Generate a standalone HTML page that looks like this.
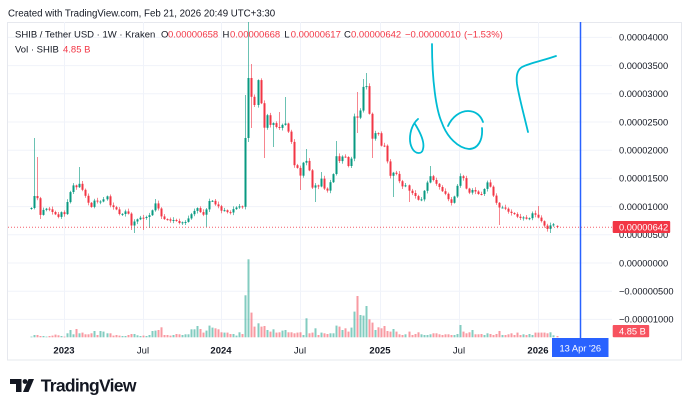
<!DOCTYPE html>
<html><head><meta charset="utf-8">
<style>
html,body{margin:0;padding:0;background:#fff;}
body{width:690px;height:409px;position:relative;overflow:hidden;font-family:"Liberation Sans",sans-serif;}
svg{position:absolute;left:0;top:0;}
text{font-family:"Liberation Sans",sans-serif;fill:#131722;}
</style></head><body>
<svg width="690" height="409" viewBox="0 0 690 409" xmlns="http://www.w3.org/2000/svg">
<defs><clipPath id="pc"><rect x="8" y="22" width="604" height="316"/></clipPath></defs>
<rect x="0" y="0" width="690" height="409" fill="#fff"/>
<text x="8" y="16.7" font-size="9.7">Created with TradingView.com, Feb 21, 2026 20:49 UTC+3:30</text>
<rect x="7.5" y="22.5" width="674" height="337.5" fill="none" stroke="#e6e8ee" stroke-width="1"/>
<g stroke="#f0f3fa" stroke-width="1">
<line x1="8" x2="612" y1="37.4" y2="37.4"/><line x1="8" x2="612" y1="65.6" y2="65.6"/>
<line x1="8" x2="612" y1="93.8" y2="93.8"/><line x1="8" x2="612" y1="122" y2="122"/>
<line x1="8" x2="612" y1="150.2" y2="150.2"/><line x1="8" x2="612" y1="178.4" y2="178.4"/>
<line x1="8" x2="612" y1="206.6" y2="206.6"/><line x1="8" x2="612" y1="234.8" y2="234.8"/>
<line x1="8" x2="612" y1="263" y2="263"/><line x1="8" x2="612" y1="291.2" y2="291.2"/>
<line x1="8" x2="612" y1="319.4" y2="319.4"/>
<line x1="64.5" x2="64.5" y1="22" y2="338"/><line x1="143.5" x2="143.5" y1="22" y2="338"/>
<line x1="221.5" x2="221.5" y1="22" y2="338"/><line x1="300.5" x2="300.5" y1="22" y2="338"/>
<line x1="380.5" x2="380.5" y1="22" y2="338"/><line x1="459.5" x2="459.5" y1="22" y2="338"/>
<line x1="538.5" x2="538.5" y1="22" y2="338"/>
</g>
<g id="vol" clip-path="url(#pc)"></g>
<g id="cndl" clip-path="url(#pc)"></g>
<line x1="8" x2="612" y1="227.3" y2="227.3" stroke="#F23645" stroke-width="1" stroke-dasharray="1,2" opacity="0.8"/>
<g fill="none" stroke="#00BCD4" stroke-width="1.8" stroke-linecap="round" stroke-linejoin="round">
<path d="M418,119 C410,126 408,140 412,148 C415,154 422,155 423,149 C425,142 420,132 415,124"/>
<path d="M432,44 C432,80 436,110 442,123 C447,137 458,148 469,149 C478,149 483,140 482,128"/>
<path d="M448,126 C452,117 460,111 468,111 C476,111 481,116 483,122"/>
<path d="M556,56 C545,60 530,63 522,67 C517,70 516,76 517,84 C519,97 524,115 528,132"/>
</g>
<text x="15" y="37.7" font-size="9.5">SHIB / Tether USD · 1W · Kraken</text>
<text x="161" y="37.7" font-size="9.5">O</text><text x="168" y="37.7" font-size="9.5" style="fill:#F23645">0.00000658</text>
<text x="222.5" y="37.7" font-size="9.5">H</text><text x="230" y="37.7" font-size="9.5" style="fill:#F23645">0.00000668</text>
<text x="284.3" y="37.7" font-size="9.5">L</text><text x="290.7" y="37.7" font-size="9.5" style="fill:#F23645">0.00000617</text>
<text x="344" y="37.7" font-size="9.5">C</text><text x="351" y="37.7" font-size="9.5" style="fill:#F23645">0.00000642</text>
<text x="405" y="37.7" font-size="9.5" style="fill:#F23645">−0.00000010</text>
<text x="464" y="37.7" font-size="9.5" style="fill:#F23645">(−1.53%)</text>
<text x="15" y="52.7" font-size="9.5">Vol · SHIB</text>
<text x="63" y="52.7" font-size="9.5" style="fill:#F23645">4.85 B</text>
<line x1="580.5" x2="580.5" y1="22" y2="338" stroke="#2962FF" stroke-width="1.5"/>
<g font-size="9.3">
<text x="619" y="40.7">0.00004000</text><text x="619" y="68.9">0.00003500</text>
<text x="619" y="97.1">0.00003000</text><text x="619" y="125.3">0.00002500</text>
<text x="619" y="153.5">0.00002000</text><text x="619" y="181.7">0.00001500</text>
<text x="619" y="209.9">0.00001000</text><text x="619" y="238.1">0.00000500</text>
<text x="619" y="266.3">0.00000000</text><text x="619" y="294.5">−0.00000500</text>
<text x="619" y="322.7">−0.00001000</text>
</g>
<rect x="612.7" y="221" width="57.5" height="12" fill="#F23645" rx="1"/>
<text x="619" y="230.5" font-size="9.3" style="fill:#fff">0.00000642</text>
<rect x="612.7" y="325" width="36.5" height="12.3" fill="#F7525F" rx="1"/>
<text x="619" y="334.5" font-size="9.3" style="fill:#fff">4.85 B</text>
<g font-size="9.5" text-anchor="middle">
<text x="64" y="353.5" font-weight="bold">2023</text>
<text x="143" y="353.5">Jul</text>
<text x="221" y="353.5" font-weight="bold">2024</text>
<text x="300" y="353.5">Jul</text>
<text x="380" y="353.5" font-weight="bold">2025</text>
<text x="459" y="353.5">Jul</text>
<text x="538" y="353.5" font-weight="bold">2026</text>
</g>
<rect x="552" y="338" width="56.5" height="19" fill="#2962FF"/>
<text x="559.5" y="351.5" font-size="9.3" style="fill:#fff">13 Apr '26</text>
<g fill="#131722">
<rect x="10" y="379" width="11.5" height="5"/>
<rect x="16" y="379" width="5.5" height="13"/>
<circle cx="25" cy="381.5" r="2.4"/>
<polygon points="28.5,379 34,379 28.5,392 23,392"/>
</g>
<text x="40.7" y="391.7" font-size="17.5" font-weight="bold" letter-spacing="-0.7">TradingView</text>
</svg>
<script>
(function(){
var KP=[[31,208],[34,196],[37,198],[40,215],[43,210],[45,208],[48,210],[51,208],[53,215],[56,214],[59,218],[61,212],[64,215],[67,203],[69,195],[72,188],[75,182],[77,190],[80,182],[83,192],[85,195],[88,202],[91,208],[94,200],[96,203],[99,200],[102,203],[104,198],[107,196],[109,205],[112,207],[115,208],[117,213],[120,215],[123,213],[125,211],[128,214],[131,227],[133,222],[136,220],[139,217],[141,219],[144,217],[147,217],[149,215],[152,210],[155,203],[157,206],[160,215],[163,220],[165,218],[168,220],[171,221],[173,220],[176,221],[179,223],[181,222],[184,223],[187,220],[189,217],[192,213],[195,210],[197,208],[200,212],[203,215],[206,210],[208,203],[211,198],[214,205],[216,204],[219,207],[222,212],[224,210],[227,212],[230,213],[232,210],[235,208],[238,207],[240,206],[243,207],
[245.5,136],[248.5,77],[251.5,97],[254.5,105],[257.5,80],[260.5,103],[263.5,128],[266.5,115],[269.5,125],[272.5,123],[275.5,127],[278.5,128],[281.5,125],[284.5,123],[287.5,131],[290.5,140],[293.5,165],[296.5,167],[299.5,177],[302.5,163],[305.5,160],[308.5,168],[311.5,188],[314.5,185],[317.5,188],[320.5,177],[323.5,188],[326.5,192],[329.5,183],[332.5,178],[335.5,155],[338.5,162],[341.5,157],[344.5,155],[347.5,165],[350.5,170],[353.5,116],[356.5,118],[359.5,117],[362.5,89],[365.5,80],[368.5,105],[371.5,140],[374.5,135],[377.5,128],[380.5,147],[383.5,142],[386.5,155],[389.5,177],[392.5,173],[395.5,172],[398.5,178],[401.5,188],[404.5,183],[407.5,190],[410.5,192],[413.5,195],[416.5,198],[419.5,203],[422.5,193],[425.5,187],[428.5,175],[431.5,178],[434.5,183],[437.5,185],[440.5,190],[443.5,193],[446.5,195],[449.5,205],[452.5,200],[455.5,192],[458.5,178],[461.5,174],[464.5,183],[467.5,195],[470.5,190],[473.5,190],[476.5,193],[479.5,195],[482.5,193],[485.5,185],[488.5,180],[491.5,193],[494.5,198],[497.5,207],[500.5,208],[503.5,207],[506.5,210],[509.5,213],[512.5,213],[515.5,215],[518.5,218],[521.5,218],[524.5,217],[527.5,220],[530.5,217],[533.5,211],[536.5,217],[539.5,218],[542.5,223],[545.5,227],[548.5,230],[551.5,223],[554.5,225],[556.5,226.8]];
var OV=[[34,138,null],[37,157,null],[40,null,219],[79,167,null],[131,null,230],[133,null,233],[142,null,230],[149,null,228],[155,199,null],[206,208,227],[245.5,95,null],[248.5,22,142],[251.5,64,128],[263.5,null,158],[272.5,null,147],[278.5,112,null],[284.5,97,null],[300,null,190],[305.5,149,null],[315,null,202],[320.5,172,null],[335.5,141,null],[357,92,133],[363,79,null],[366,73,null],[372,null,158],[393,null,197],[408,null,202],[430,166,null],[499,null,225],[538,206,null],[550,null,233]];
var VK=[[30,0.7],[33,2.3],[36,3.3],[38,2.3],[42,1.3],[45,0.7],[48,1.3],[52,1.7],[55,2.7],[57,2],[60,1.3],[63,0.7],[66,4],[69,7.3],[72,3],[76,8.3],[79,4],[81,4.7],[84,3],[87,3],[90,4],[94,6.3],[97,2.3],[100,6.3],[103,5.7],[105,3.3],[108,4],[112,1.7],[115,2.3],[118,1.7],[122,1.3],[125,1.3],[128,2.3],[133,3.3],[136,2],[139,1.3],[143,1.7],[146,1.3],[149,2.3],[152,6.3],[154,6.7],[157,7.3],[160,10],[163,2.3],[167,2.3],[170,1.7],[173,2.3],[177,3.3],[180,3],[183,2.3],[187,3],[191,8],[193,8],[197,11.3],[200,8.3],[203,4.7],[205,6.7],[208,11.7],[212,9.7],[215,9],[218,8],[222,5],[225,4.7],[228,4.7],[232,3.3],[235,1.7],[239,5],[242,3.3],[245.7,42],[248.3,78],[251,24.7],[254,10.7],[256.7,14],[259.3,10.7],[262.7,11.3],[265.7,7.3],[268.7,5.7],[271.7,8],[275,4.7],[278,5],[281,6.7],[284,7.3],[287,5],[290,5],[293,4],[296,4.7],[299.3,5],[301.7,2.3],[305,19],[308.3,4],[311.7,4.7],[315,9],[317.7,2.3],[320.7,4.7],[323.3,4],[326.7,3.3],[330,4],[332.7,4],[335.7,11.7],[338.3,10.7],[341.7,7.3],[344.3,9],[346.7,5.7],[350,9.7],[353.3,25.7],[356.7,41.3],[360,22.3],[363.3,21.7],[366,31.3],[369.3,18],[372.7,14.7],[375,7.3],[377.7,10],[380.7,9],[384,11.3],[387.3,6.3],[390,5.7],[393.3,8.3],[396,5.7],[399,3],[401.7,2.3],[405,3],[408.3,5.7],[411,2.3],[414,3.3],[417.3,5],[420,3],[423.3,2.3],[426.7,2.3],[429.3,3],[432.7,4],[436,4],[439.3,3],[442.7,2.3],[445.7,3],[449,3],[452.3,2.3],[455.7,3.3],[459.3,12.3],[462.3,5.7],[465,4],[468.3,5],[471,7.3],[474.3,3],[477.3,3],[480,3.3],[483.3,2.3],[486.7,4],[490,3.3],[493.3,2.3],[496,3.3],[498.7,6.3],[502,2.3],[505,2.3],[508.3,3],[511,4],[514,2.3],[516.7,4.7],[520,2.3],[522.7,3],[526,2.3],[529.3,3.3],[532.3,2.3],[535,4.7],[538.3,4.7],[541.7,4.7],[545,4.7],[547.7,4],[550.7,5],[553.3,2],[556,1.3]];
function interp(a,x){if(x<=a[0][0])return a[0][1];for(var k=1;k<a.length;k++){if(x<=a[k][0]){var p=a[k-1],q=a[k];return p[1]+(q[1]-p[1])*(x-p[0])/(q[0]-p[0]);}}return a[a.length-1][1];}
function nearest(a,x){var b=a[0][1],d=1e9;for(var k=0;k<a.length;k++){var dd=Math.abs(a[k][0]-x);if(dd<d){d=dd;b=a[k][1];}}return b;}
var N=175,x0=31,step=(556.5-31)/174;
var ovMap={};
for(var j=0;j<OV.length;j++){var idx=Math.round((OV[j][0]-x0)/step);ovMap[idx]=OV[j];}
var prev=209,cs='',vs='';
for(var i=0;i<N;i++){
 var x=x0+i*step,c=interp(KP,x),o=prev;
 if(i==N-1){o=225.9;c=226.8;}
 var w1=0.8+((i*37)%5)*0.5,w2=0.8+((i*53)%4)*0.6;
 var hi=Math.min(o,c)-w1,lo=Math.max(o,c)+w2;
 if(i==N-1){hi=225.3;lo=228.2;}
 var ov=ovMap[i];
 if(ov){if(ov[1]!==null)hi=Math.min(hi,ov[1]);if(ov[2]!==null)lo=Math.max(lo,ov[2]);}
 var up=c<=o;
 var col=up?'#089981':'#F23645';
 var bx=Math.round(x);
 var top=Math.min(o,c),bh=Math.max(1,Math.abs(o-c));
 cs+='<rect x="'+bx+'" y="'+hi.toFixed(1)+'" width="1" height="'+(lo-hi).toFixed(1)+'" fill="'+col+'" opacity="0.6"/>';
 cs+='<rect x="'+(bx-0.5)+'" y="'+top.toFixed(1)+'" width="2" height="'+bh.toFixed(1)+'" fill="'+col+'"/>';
 var vh=nearest(VK,x);
 var vcol=up?'rgba(8,153,129,0.5)':'rgba(242,54,69,0.5)';
 vs+='<rect x="'+(bx-0.5)+'" y="'+(337.3-vh).toFixed(1)+'" width="2" height="'+vh.toFixed(1)+'" fill="'+vcol+'"/>';
 prev=c;
}
document.getElementById('cndl').innerHTML=cs;
document.getElementById('vol').innerHTML=vs;
})();
</script>
</body></html>
